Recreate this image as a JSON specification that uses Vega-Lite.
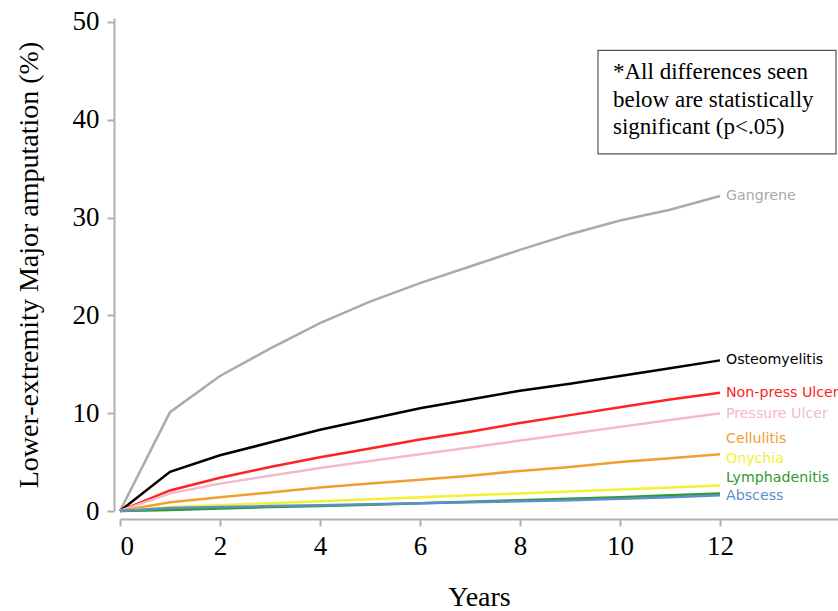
{
  "$schema": "https://vega.github.io/schema/vega-lite/v6.json",
  "width": 718,
  "height": 493,
  "autosize": {"type": "none"},
  "padding": {"left": 120, "top": 18, "right": 0, "bottom": 100},
  "background": "white",
  "config": {"view": {"stroke": null}},
  "datasets": {
    "series": [
      {"disease": "Gangrene", "year": 0, "pct": 0}, {"disease": "Gangrene", "year": 1, "pct": 10.1}, {"disease": "Gangrene", "year": 2, "pct": 13.8}, {"disease": "Gangrene", "year": 3, "pct": 16.6}, {"disease": "Gangrene", "year": 4, "pct": 19.2}, {"disease": "Gangrene", "year": 5, "pct": 21.4}, {"disease": "Gangrene", "year": 6, "pct": 23.3}, {"disease": "Gangrene", "year": 7, "pct": 25.0}, {"disease": "Gangrene", "year": 8, "pct": 26.7}, {"disease": "Gangrene", "year": 9, "pct": 28.3}, {"disease": "Gangrene", "year": 10, "pct": 29.7}, {"disease": "Gangrene", "year": 11, "pct": 30.8}, {"disease": "Gangrene", "year": 12, "pct": 32.2},
      {"disease": "Osteomyelitis", "year": 0, "pct": 0}, {"disease": "Osteomyelitis", "year": 1, "pct": 4.0}, {"disease": "Osteomyelitis", "year": 2, "pct": 5.7}, {"disease": "Osteomyelitis", "year": 3, "pct": 7.0}, {"disease": "Osteomyelitis", "year": 4, "pct": 8.3}, {"disease": "Osteomyelitis", "year": 5, "pct": 9.4}, {"disease": "Osteomyelitis", "year": 6, "pct": 10.5}, {"disease": "Osteomyelitis", "year": 7, "pct": 11.4}, {"disease": "Osteomyelitis", "year": 8, "pct": 12.3}, {"disease": "Osteomyelitis", "year": 9, "pct": 13.0}, {"disease": "Osteomyelitis", "year": 10, "pct": 13.8}, {"disease": "Osteomyelitis", "year": 11, "pct": 14.6}, {"disease": "Osteomyelitis", "year": 12, "pct": 15.4},
      {"disease": "Non-press Ulcer", "year": 0, "pct": 0}, {"disease": "Non-press Ulcer", "year": 1, "pct": 2.1}, {"disease": "Non-press Ulcer", "year": 2, "pct": 3.4}, {"disease": "Non-press Ulcer", "year": 3, "pct": 4.5}, {"disease": "Non-press Ulcer", "year": 4, "pct": 5.5}, {"disease": "Non-press Ulcer", "year": 5, "pct": 6.4}, {"disease": "Non-press Ulcer", "year": 6, "pct": 7.3}, {"disease": "Non-press Ulcer", "year": 7, "pct": 8.1}, {"disease": "Non-press Ulcer", "year": 8, "pct": 9.0}, {"disease": "Non-press Ulcer", "year": 9, "pct": 9.8}, {"disease": "Non-press Ulcer", "year": 10, "pct": 10.6}, {"disease": "Non-press Ulcer", "year": 11, "pct": 11.4}, {"disease": "Non-press Ulcer", "year": 12, "pct": 12.1},
      {"disease": "Pressure Ulcer", "year": 0, "pct": 0}, {"disease": "Pressure Ulcer", "year": 1, "pct": 1.8}, {"disease": "Pressure Ulcer", "year": 2, "pct": 2.8}, {"disease": "Pressure Ulcer", "year": 3, "pct": 3.6}, {"disease": "Pressure Ulcer", "year": 4, "pct": 4.4}, {"disease": "Pressure Ulcer", "year": 5, "pct": 5.1}, {"disease": "Pressure Ulcer", "year": 6, "pct": 5.8}, {"disease": "Pressure Ulcer", "year": 7, "pct": 6.5}, {"disease": "Pressure Ulcer", "year": 8, "pct": 7.2}, {"disease": "Pressure Ulcer", "year": 9, "pct": 7.9}, {"disease": "Pressure Ulcer", "year": 10, "pct": 8.6}, {"disease": "Pressure Ulcer", "year": 11, "pct": 9.3}, {"disease": "Pressure Ulcer", "year": 12, "pct": 10.0},
      {"disease": "Cellulitis", "year": 0, "pct": 0}, {"disease": "Cellulitis", "year": 1, "pct": 0.9}, {"disease": "Cellulitis", "year": 2, "pct": 1.4}, {"disease": "Cellulitis", "year": 3, "pct": 1.9}, {"disease": "Cellulitis", "year": 4, "pct": 2.4}, {"disease": "Cellulitis", "year": 5, "pct": 2.8}, {"disease": "Cellulitis", "year": 6, "pct": 3.2}, {"disease": "Cellulitis", "year": 7, "pct": 3.6}, {"disease": "Cellulitis", "year": 8, "pct": 4.1}, {"disease": "Cellulitis", "year": 9, "pct": 4.5}, {"disease": "Cellulitis", "year": 10, "pct": 5.0}, {"disease": "Cellulitis", "year": 11, "pct": 5.4}, {"disease": "Cellulitis", "year": 12, "pct": 5.8},
      {"disease": "Onychia", "year": 0, "pct": 0}, {"disease": "Onychia", "year": 1, "pct": 0.4}, {"disease": "Onychia", "year": 2, "pct": 0.6}, {"disease": "Onychia", "year": 3, "pct": 0.8}, {"disease": "Onychia", "year": 4, "pct": 1.0}, {"disease": "Onychia", "year": 5, "pct": 1.2}, {"disease": "Onychia", "year": 6, "pct": 1.4}, {"disease": "Onychia", "year": 7, "pct": 1.6}, {"disease": "Onychia", "year": 8, "pct": 1.8}, {"disease": "Onychia", "year": 9, "pct": 2.0}, {"disease": "Onychia", "year": 10, "pct": 2.2}, {"disease": "Onychia", "year": 11, "pct": 2.4}, {"disease": "Onychia", "year": 12, "pct": 2.6},
      {"disease": "Lymphadenitis", "year": 0, "pct": 0}, {"disease": "Lymphadenitis", "year": 1, "pct": 0.1}, {"disease": "Lymphadenitis", "year": 2, "pct": 0.25}, {"disease": "Lymphadenitis", "year": 3, "pct": 0.4}, {"disease": "Lymphadenitis", "year": 4, "pct": 0.5}, {"disease": "Lymphadenitis", "year": 5, "pct": 0.65}, {"disease": "Lymphadenitis", "year": 6, "pct": 0.8}, {"disease": "Lymphadenitis", "year": 7, "pct": 0.95}, {"disease": "Lymphadenitis", "year": 8, "pct": 1.1}, {"disease": "Lymphadenitis", "year": 9, "pct": 1.25}, {"disease": "Lymphadenitis", "year": 10, "pct": 1.4}, {"disease": "Lymphadenitis", "year": 11, "pct": 1.6}, {"disease": "Lymphadenitis", "year": 12, "pct": 1.8},
      {"disease": "Abscess", "year": 0, "pct": 0}, {"disease": "Abscess", "year": 1, "pct": 0.3}, {"disease": "Abscess", "year": 2, "pct": 0.4}, {"disease": "Abscess", "year": 3, "pct": 0.5}, {"disease": "Abscess", "year": 4, "pct": 0.6}, {"disease": "Abscess", "year": 5, "pct": 0.7}, {"disease": "Abscess", "year": 6, "pct": 0.8}, {"disease": "Abscess", "year": 7, "pct": 0.9}, {"disease": "Abscess", "year": 8, "pct": 1.0}, {"disease": "Abscess", "year": 9, "pct": 1.1}, {"disease": "Abscess", "year": 10, "pct": 1.25}, {"disease": "Abscess", "year": 11, "pct": 1.4}, {"disease": "Abscess", "year": 12, "pct": 1.6}
    ],
    "labels": [
      {"disease": "Gangrene", "year": 12, "labelPct": 32.2},
      {"disease": "Osteomyelitis", "year": 12, "labelPct": 15.4},
      {"disease": "Non-press Ulcer", "year": 12, "labelPct": 12.1},
      {"disease": "Pressure Ulcer", "year": 12, "labelPct": 9.9},
      {"disease": "Cellulitis", "year": 12, "labelPct": 7.4},
      {"disease": "Onychia", "year": 12, "labelPct": 5.3},
      {"disease": "Lymphadenitis", "year": 12, "labelPct": 3.4},
      {"disease": "Abscess", "year": 12, "labelPct": 1.5}
    ],
    "note": [
      {"x": 9.56, "x2": 14.32, "y": 47.1, "y2": 36.5, "tx": 9.86, "ty": 46.0, "text": ["*All differences seen", "below are statistically", "significant (p<.05)"]}
    ]
  },
  "layer": [
    {
      "data": {"name": "series"},
      "mark": {"type": "line", "strokeWidth": 2.5, "clip": false},
      "encoding": {
        "x": {
          "field": "year", "type": "quantitative",
          "scale": {"domain": [0, 14.36], "nice": false, "zero": false},
          "axis": {
            "title": "Years", "values": [0, 2, 4, 6, 8, 10, 12], "grid": false,
            "offset": 8, "domainColor": "#b0b0b0", "domainWidth": 2, "tickColor": "#b0b0b0", "tickWidth": 2, "tickSize": 7,
            "labelFont": "Liberation Serif", "labelFontSize": 27, "labelColor": "black", "labelPadding": 7,
            "titleFont": "Liberation Serif", "titleFontSize": 28, "titleFontWeight": "normal", "titleColor": "black", "titlePadding": 24
          }
        },
        "y": {
          "field": "pct", "type": "quantitative",
          "scale": {"domain": [0, 50.4], "nice": false},
          "axis": {
            "title": "Lower-extremity Major amputation (%)", "values": [0, 10, 20, 30, 40, 50], "grid": false,
            "offset": 6, "domainColor": "#b0b0b0", "domainWidth": 2, "tickColor": "#b0b0b0", "tickWidth": 2, "tickSize": 7,
            "labelFont": "Liberation Serif", "labelFontSize": 27, "labelColor": "black", "labelPadding": 8,
            "titleFont": "Liberation Serif", "titleFontSize": 28, "titleFontWeight": "normal", "titleColor": "black", "titlePadding": 29
          }
        },
        "color": {
          "field": "disease", "type": "nominal", "legend": null,
          "scale": {
            "domain": ["Gangrene", "Osteomyelitis", "Non-press Ulcer", "Pressure Ulcer", "Cellulitis", "Onychia", "Lymphadenitis", "Abscess"],
            "range": ["#aaaaaa", "#000000", "#ff2222", "#f5b8cb", "#f0a030", "#f2f230", "#2e9a2e", "#5b8fc9"]
          }
        }
      }
    },
    {
      "data": {"name": "labels"},
      "mark": {"type": "text", "align": "left", "baseline": "middle", "dx": 6, "font": "DejaVu Sans", "fontSize": 14.2, "clip": false},
      "encoding": {
        "x": {"field": "year", "type": "quantitative"},
        "y": {"field": "labelPct", "type": "quantitative"},
        "text": {"field": "disease"},
        "color": {"field": "disease", "type": "nominal", "legend": null}
      }
    },
    {
      "data": {"name": "note"},
      "mark": {"type": "rect", "fill": "white", "stroke": "#555555", "strokeWidth": 1.2},
      "encoding": {
        "x": {"field": "x", "type": "quantitative"},
        "x2": {"field": "x2"},
        "y": {"field": "y", "type": "quantitative"},
        "y2": {"field": "y2"}
      }
    },
    {
      "data": {"name": "note"},
      "mark": {"type": "text", "align": "left", "baseline": "top", "font": "Liberation Serif", "fontSize": 23, "lineHeight": 27.5, "color": "black"},
      "encoding": {
        "x": {"field": "tx", "type": "quantitative"},
        "y": {"field": "ty", "type": "quantitative"},
        "text": {"field": "text"}
      }
    }
  ]
}
